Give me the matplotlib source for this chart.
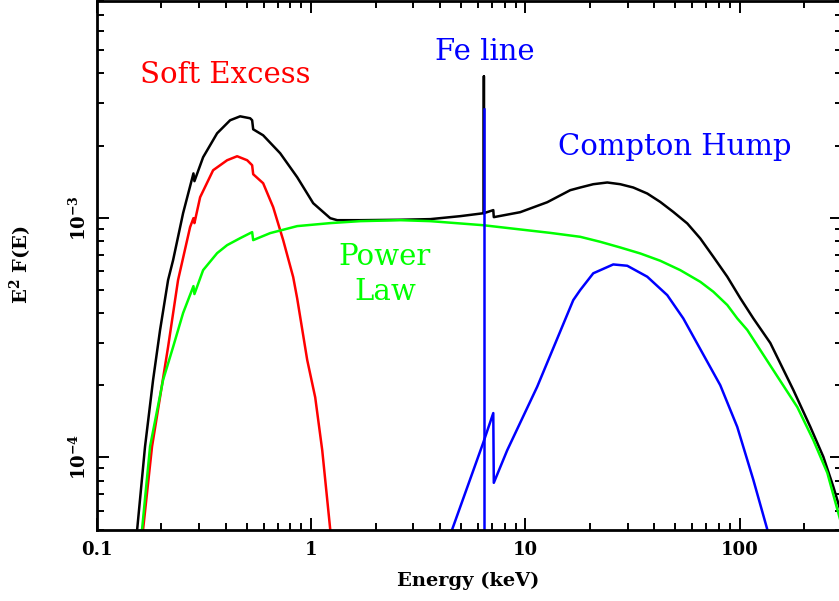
import matplotlib
matplotlib.use('Agg')
import matplotlib.pyplot as plt
from matplotlib.ticker import LogLocator, NullFormatter, FixedLocator

plt.rcParams['font.family'] = ['DejaVu Serif']
plt.rcParams['mathtext.fontset'] = 'dejavuserif'

# ---- data (keV, E^2 F(E)) ----
total_energy = [0.154, 0.1676, 0.1827, 0.197, 0.2147, 0.2266, 0.2523, 0.282, 0.285,
                0.3129, 0.3637, 0.4183, 0.4658, 0.5188, 0.530, 0.536, 0.5966, 0.7163,
                0.8602, 1.0217, 1.227, 1.323, 1.694, 2.606, 3.598, 4.962, 6.4,
                6.4, 6.4, 7.08, 7.12, 9.456, 12.65, 16.19, 18.03, 20.74, 24.11, 27.72,
                31.88, 37.06, 42.62, 49.01, 56.98, 65.53, 75.38, 87.6, 100.8, 115.9,
                139.1, 178.2, 213.9, 246.0, 273.9, 292.2, 300]
total_flux = [5.0e-5, 1.11e-4, 2.10e-4, 3.40e-4, 5.49e-4, 6.65e-4, 1.044e-3, 1.53e-3, 1.42e-3,
              1.787e-3, 2.249e-3, 2.549e-3, 2.647e-3, 2.598e-3, 2.549e-3, 2.337e-3, 2.206e-3,
              1.857e-3, 1.475e-3, 1.149e-3, 9.95e-4, 9.76e-4, 9.76e-4, 9.8e-4, 9.86e-4,
              1.0145e-3, 1.044e-3, 3.887e-3, 1.044e-3, 1.075e-3, 1.005e-3, 1.054e-3, 1.160e-3,
              1.302e-3, 1.336e-3, 1.379e-3, 1.402e-3, 1.379e-3, 1.336e-3, 1.261e-3, 1.163e-3,
              1.057e-3, 9.46e-4, 8.19e-4, 6.87e-4, 5.67e-4, 4.61e-4, 3.80e-4, 3.00e-4,
              1.91e-4, 1.34e-4, 1.005e-4, 7.54e-5, 6.22e-5, 5.8e-5]

soft_energy = [0.1641, 0.1807, 0.197, 0.2147, 0.239, 0.272, 0.282, 0.285, 0.303, 0.3484,
               0.405, 0.451, 0.5024, 0.530, 0.536, 0.5966, 0.6645, 0.7399, 0.824, 0.8602,
               0.9579, 1.044, 1.126, 1.227]
soft_flux = [5.0e-5, 1.11e-4, 1.786e-4, 2.887e-4, 5.49e-4, 9.13e-4, 9.95e-4, 9.49e-4, 1.217e-3,
             1.577e-3, 1.736e-3, 1.804e-3, 1.736e-3, 1.655e-3, 1.518e-3, 1.392e-3, 1.106e-3,
             8.06e-4, 5.65e-4, 4.6e-4, 2.55e-4, 1.78e-4, 1.07e-4, 5.0e-5]

pl_energy = [0.1623, 0.1769, 0.2034, 0.2266, 0.2523, 0.282, 0.285, 0.3129, 0.3637, 0.405,
             0.4658, 0.5188, 0.530, 0.536, 0.6434, 0.8602, 1.227, 1.694, 2.606, 3.598, 6.353,
             13.06, 18.03, 22.36, 27.72, 34.38, 42.62, 52.84, 65.53, 75.38, 87.6, 97.5,
             108.6, 143.7, 186.0, 220.9, 256.8, 292.2, 300]
pl_flux = [5.0e-5, 1.11e-4, 2.10e-4, 2.887e-4, 4.0e-4, 5.18e-4, 4.80e-4, 6.04e-4, 7.11e-4,
           7.68e-4, 8.21e-4, 8.62e-4, 8.70e-4, 8.06e-4, 8.62e-4, 9.22e-4, 9.49e-4, 9.67e-4,
           9.76e-4, 9.67e-4, 9.30e-4, 8.64e-4, 8.32e-4, 7.93e-4, 7.51e-4, 7.09e-4, 6.61e-4,
           6.04e-4, 5.40e-4, 4.91e-4, 4.32e-4, 3.80e-4, 3.40e-4, 2.31e-4, 1.62e-4, 1.18e-4,
           8.61e-5, 5.65e-5, 5.2e-5]

compton_energy = [4.550, 6.353, 7.08, 7.12, 8.222, 11.35, 16.73, 18.03, 20.74, 25.71, 29.89,
                  37.06, 45.95, 54.58, 81.23, 97.5, 115.9, 134.7]
compton_flux = [5.0e-5, 1.15e-4, 1.53e-4, 7.83e-5, 1.07e-4, 1.97e-4, 4.53e-4, 4.99e-4,
                5.86e-4, 6.38e-4, 6.30e-4, 5.67e-4, 4.75e-4, 3.80e-4, 2.00e-4, 1.34e-4,
                8.06e-5, 5.0e-5]

fe_energy = [6.4, 6.4]
fe_flux = [1.0e-5, 2.832e-3]

x_ticks = [0.1, 1, 10, 100]
x_tick_labels = ['0.1', '1', '10', '100']
y_ticks = [1e-4, 1e-3]
y_tick_labels = [r'$\mathbf{10^{-4}}$', r'$\mathbf{10^{-3}}$']

W, H = 839, 601
fig = plt.figure(figsize=(W / 100, H / 100), dpi=100)
ax = fig.add_axes([97 / W, 1 - 529.5 / H, 744.8 / W, 528.3 / H])
ax.set_xscale('log')
ax.set_yscale('log')
ax.set_xlim(0.1, 300)
ax.set_ylim(5e-5, 8e-3)

lw = 1.8
ax.plot(total_energy, total_flux, color='black', lw=lw)
ax.plot(soft_energy, soft_flux, color='#ff0000', lw=lw)
ax.plot(pl_energy, pl_flux, color='#00ff00', lw=lw)
ax.plot(compton_energy, compton_flux, color='#0000ff', lw=lw)
ax.plot(fe_energy, fe_flux, color='#0000ff', lw=lw)

ax.xaxis.set_major_locator(FixedLocator(x_ticks))
ax.set_xticklabels(x_tick_labels, fontweight='bold')
ax.xaxis.set_minor_locator(LogLocator(base=10, subs=range(2, 10), numticks=30))
ax.xaxis.set_minor_formatter(NullFormatter())
ax.yaxis.set_major_locator(FixedLocator(y_ticks))
ax.set_yticklabels(y_tick_labels, rotation=90, va='center')
ax.yaxis.set_minor_locator(LogLocator(base=10, subs=range(2, 10), numticks=30))
ax.yaxis.set_minor_formatter(NullFormatter())

ax.tick_params(which='both', direction='in', top=True, right=True, width=1.4, color='black')
ax.tick_params(which='major', length=8.6, labelsize=13)
ax.tick_params(which='minor', length=4.7)
ax.tick_params(axis='x', which='major', pad=8)
ax.tick_params(axis='y', which='major', pad=5)
for s in ax.spines.values():
    s.set_linewidth(2.0)

fig.text(468 / W, 1 - 581 / H, 'Energy (keV)', ha='center', va='center',
         fontsize=14, fontweight='bold')
fig.text(21 / W, 1 - 265 / H, r'$\mathbf{E^2\ F(E)}$', ha='center', va='center',
         rotation=90, fontsize=14)

fs = 21
fig.text(225 / W, 1 - 75 / H, 'Soft Excess', color='#ff0000', ha='center', va='center', fontsize=fs)
fig.text(485 / W, 1 - 52 / H, 'Fe line', color='#0000ff', ha='center', va='center', fontsize=fs)
fig.text(675 / W, 1 - 147 / H, 'Compton Hump', color='#0000ff', ha='center', va='center', fontsize=fs)
fig.text(385 / W, 1 - 257 / H, 'Power', color='#00ff00', ha='center', va='center', fontsize=fs)
fig.text(385 / W, 1 - 292 / H, 'Law', color='#00ff00', ha='center', va='center', fontsize=fs)

fig.savefig('out.png', dpi=100)
